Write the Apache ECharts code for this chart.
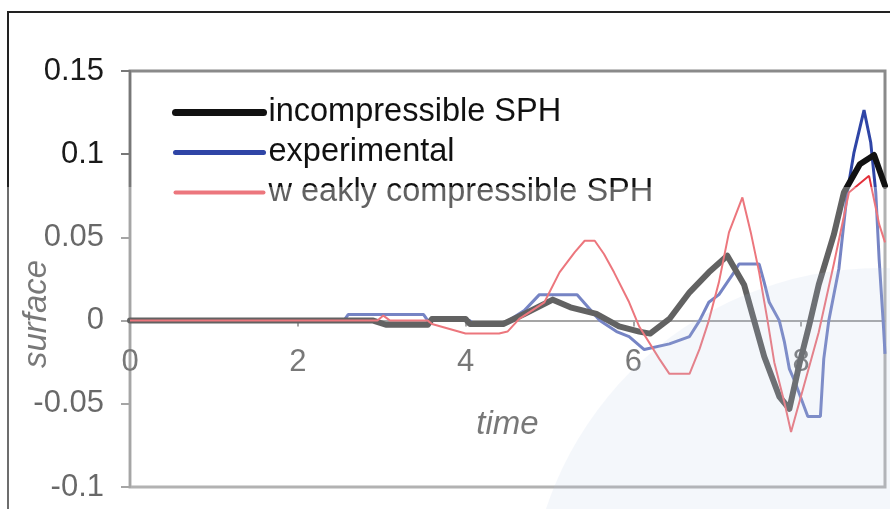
<!DOCTYPE html>
<html>
<head>
<meta charset="utf-8">
<script src="https://cdn.jsdelivr.net/npm/echarts@6/dist/echarts.min.js"></script>
<style>
html,body{margin:0;padding:0;background:#fff;}
#chart{width:890px;height:509px;}
</style>
</head>
<body>
<div id="chart"></div>
<script>
// ---- data ----
var seriesNames = ['incompressible SPH', 'experimental', 'w eakly compressible SPH'];

var incompTime  = [0, 2.9, 3.05, 3.55, 3.6, 4.0, 4.05, 4.45, 4.7, 5.04, 5.25, 5.56, 5.83, 6.07, 6.2, 6.43, 6.67, 6.9, 7.12, 7.32, 7.44, 7.56, 7.74, 7.86, 7.98, 8.1, 8.21, 8.39, 8.51, 8.7, 8.87, 9.0];
var incompValue = [0, 0, -0.0025, -0.0025, 0.001, 0.001, -0.002, -0.002, 0.004, 0.0126, 0.008, 0.004, -0.0035, -0.0066, -0.0078, 0.001, 0.017, 0.029, 0.039, 0.0216, 0, -0.0216, -0.0456, -0.053, -0.026, -0.002, 0.0216, 0.0516, 0.077, 0.094, 0.0995, 0.081];

var expTime  = [0, 2.55, 2.6, 3.5, 3.55, 4.05, 4.1, 4.45, 4.7, 4.88, 5.33, 5.6, 5.8, 5.95, 6.13, 6.43, 6.67, 6.79, 6.9, 7.02, 7.2, 7.26, 7.5, 7.56, 7.62, 7.74, 7.8, 7.86, 7.92, 8.08, 8.23, 8.27, 8.33, 8.45, 8.55, 8.63, 8.75, 8.83, 8.89, 8.93, 8.98, 9.0];
var expValue = [0, 0, 0.0036, 0.0036, 0, 0, -0.002, -0.002, 0.006, 0.0156, 0.0156, 0, -0.0066, -0.0096, -0.0174, -0.014, -0.0096, 0, 0.011, 0.0156, 0.029, 0.034, 0.034, 0.023, 0.011, 0, -0.0126, -0.029, -0.036, -0.0576, -0.0576, -0.023, 0, 0.031, 0.077, 0.101, 0.1265, 0.107, 0.077, 0.037, -0.002, -0.02];

var weakTime  = [0, 2.95, 3.02, 3.1, 3.55, 3.6, 4.0, 4.4, 4.5, 4.64, 4.94, 5.12, 5.3, 5.42, 5.54, 5.65, 5.77, 5.95, 6.07, 6.31, 6.43, 6.67, 6.79, 6.9, 7.02, 7.14, 7.3, 7.4, 7.5, 7.6, 7.68, 7.8, 7.88, 8.04, 8.21, 8.39, 8.57, 8.81, 8.93, 9.0];
var weakValue = [0, 0, 0.003, 0, 0, -0.002, -0.0078, -0.0078, -0.0066, 0.001, 0.011, 0.029, 0.041, 0.048, 0.048, 0.04, 0.029, 0.011, -0.0036, -0.023, -0.032, -0.032, -0.017, 0, 0.023, 0.053, 0.074, 0.053, 0.029, 0, -0.025, -0.049, -0.067, -0.038, -0.007, 0.034, 0.077, 0.087, 0.058, 0.047];

var xTicks = [0, 2, 4, 6, 8];
var yTicks = [-0.1, -0.05, 0, 0.05, 0.1, 0.15];

var yMin = -0.1, yMax = 0.15;
var colors = ['#111111', '#2f45a6', '#e3303a'];
var widths = [6, 3, 2];

function pairs(t, v) { return t.map(function (x, i) { return [x, v[i]]; }); }

var chart = echarts.init(document.getElementById('chart'), null, {renderer: 'canvas'});
var font = '"Liberation Sans", Arial, sans-serif';

var gridTop = 71, gridBottom = 22, H = 509;
var gridH = H - gridTop - gridBottom;
// move the x axis (line, ticks, labels, name) up to the value 0 line
var zeroOffset = -gridH * (0 - yMin) / (yMax - yMin);

chart.setOption({
  animation: false,
  backgroundColor: '#fff',
  grid: {
    left: 130, right: 5, top: gridTop, bottom: gridBottom,
    containLabel: false, outerBoundsMode: 'none',
    show: true, borderColor: '#8a8a8a', borderWidth: 3, backgroundColor: 'transparent'
  },
  legend: {
    data: seriesNames.map(function (n, i) {
      return {name: n, itemStyle: {opacity: 0},
              lineStyle: {color: colors[i], width: i === 0 ? 7 : (i === 1 ? 5 : 4), cap: 'round'}};
    }),
    orient: 'vertical',
    left: 172, top: 96, padding: 0,
    itemWidth: 88, itemHeight: 14, itemGap: 7,
    textStyle: {fontFamily: font, fontSize: 32.5, color: '#111', lineHeight: 33}
  },
  xAxis: {
    type: 'value', min: 0, max: 9, interval: 2,
    offset: zeroOffset,
    name: 'time', nameLocation: 'middle', nameGap: 88,
    nameTextStyle: {fontFamily: font, fontSize: 33, fontStyle: 'italic', color: '#333'},
    axisLine: {onZero: false, lineStyle: {color: '#777', width: 2}},
    axisTick: {show: true, length: 6, lineStyle: {color: '#777', width: 2}},
    axisLabel: {fontFamily: font, fontSize: 31, color: '#333', margin: 26, showMaxLabel: false},
    splitLine: {show: false}
  },
  yAxis: {
    type: 'value', min: yMin, max: yMax, interval: 0.05,
    axisLine: {show: true, lineStyle: {color: '#777', width: 2}},
    axisTick: {show: true, length: 9, lineStyle: {color: '#777', width: 2}},
    axisLabel: {fontFamily: font, fontSize: 31, color: '#1a1a1a', margin: 26,
      formatter: function (v) { return String(Math.round(v * 100) / 100); }},
    splitLine: {show: false}
  },
  series: [
    {
      name: seriesNames[1], type: 'line', data: pairs(expTime, expValue),
      showSymbol: false, symbol: 'none', z: 2,
      lineStyle: {color: colors[1], width: widths[1]}, itemStyle: {color: colors[1]}
    },
    {
      name: seriesNames[0], type: 'line', data: pairs(incompTime, incompValue),
      showSymbol: false, symbol: 'none', z: 3,
      lineStyle: {color: colors[0], width: widths[0], cap: 'round', join: 'round'}, itemStyle: {color: colors[0]}
    },
    {
      name: seriesNames[2], type: 'line', data: pairs(weakTime, weakValue),
      showSymbol: false, symbol: 'none', z: 4,
      lineStyle: {color: colors[2], width: widths[2]}, itemStyle: {color: colors[2]}
    }
  ],
  graphic: [
    {type: 'polyline', shape: {points: [[8, 509], [8, 12], [890, 12]]},
     style: {stroke: '#222', lineWidth: 2, fill: null}, z: 50, silent: true},
    {type: 'text', x: 37, y: 314, rotation: Math.PI / 2,
     style: {text: 'surface', font: 'italic 33px "Liberation Sans", Arial, sans-serif',
       fill: '#333', align: 'center', verticalAlign: 'middle'}, z: 50},
    {type: 'circle', shape: {cx: 880, cy: 620, r: 352},
     style: {fill: 'rgba(140,170,215,0.14)'}, z: 99, silent: true},
    {type: 'rect', shape: {x: 0, y: 187, width: 890, height: 322},
     style: {fill: 'rgba(255,255,255,0.34)'}, z: 100, silent: true}
  ]
});
</script>
</body>
</html>
